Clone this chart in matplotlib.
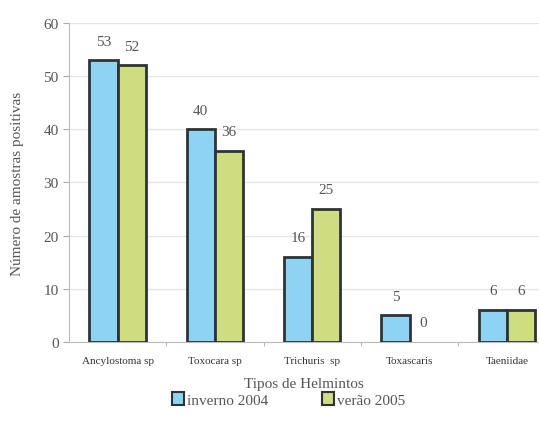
import numpy as np
import matplotlib
matplotlib.use("Agg")
import matplotlib.pyplot as plt
from matplotlib.patches import Patch

categorias = ["Ancylostoma sp", "Toxocara sp", "Trichuris  sp", "Toxascaris", "Taeniidae"]
inverno_2004 = [53, 40, 16, 5, 6]
verao_2005 = [52, 36, 25, 0, 6]

cor_azul = "#8ed4f2"
cor_verde = "#cfdc80"
cor_borda = "#2e3436"
cor_texto = "#555555"

plt.rcParams["font.family"] = ["Liberation Serif", "DejaVu Serif"]

fig = plt.figure(figsize=(5.39, 4.35), dpi=100)
ax = fig.add_axes([0.128, 0.2115, 0.872, 0.7335])

x = np.arange(len(categorias))
w = 0.29
for xs, vals, cor in [(x - w / 2, inverno_2004, cor_azul), (x + w / 2, verao_2005, cor_verde)]:
    lw = [2 if v > 0 else 0 for v in vals]
    ax.bar(xs, vals, w, color=cor, edgecolor=cor_borda, linewidth=lw, zorder=3)
    for xi, v in zip(xs, vals):
        ax.text(xi, v + 3.6, str(v), ha="center", va="center", fontsize=11, color=cor_texto)

ax.set_ylim(0, 60)
ax.set_xlim(-0.5, 4.33)
ax.set_yticks(range(0, 61, 10))
ax.set_xticks(x)
ax.set_xticklabels(categorias, fontsize=8, color="#333333")
ax.set_xticks(np.arange(0.5, 4.5, 1), minor=True)
ax.tick_params(axis="x", which="major", length=0, pad=10)
ax.tick_params(axis="x", which="minor", length=3, color="#aaaaaa")
ax.tick_params(axis="y", length=4, color="#aaaaaa", labelsize=11, labelcolor=cor_texto)

ax.yaxis.grid(True, color="#e6e6e6", linewidth=1, zorder=0)
for s in ["top", "right"]:
    ax.spines[s].set_visible(False)
ax.spines["left"].set_color("#bbbbbb")
ax.spines["bottom"].set_color("#bbbbbb")

ax.set_xlabel("Tipos de Helmintos", fontsize=11, color=cor_texto, labelpad=9)
ax.set_ylabel("Número de amostras positivas", fontsize=11, color=cor_texto, labelpad=14)

handles = [Patch(facecolor=cor_azul, edgecolor=cor_borda, linewidth=1.5),
           Patch(facecolor=cor_verde, edgecolor=cor_borda, linewidth=1.5)]
fig.legend(handles, ["inverno 2004", "verão 2005"], loc="center", bbox_to_anchor=(0.535, 0.08),
           ncol=2, frameon=False, fontsize=11, handlelength=0.8, handleheight=1.0,
           handletextpad=0.2, columnspacing=3.5, labelcolor=cor_texto)

fig.savefig("out.png", dpi=100)
